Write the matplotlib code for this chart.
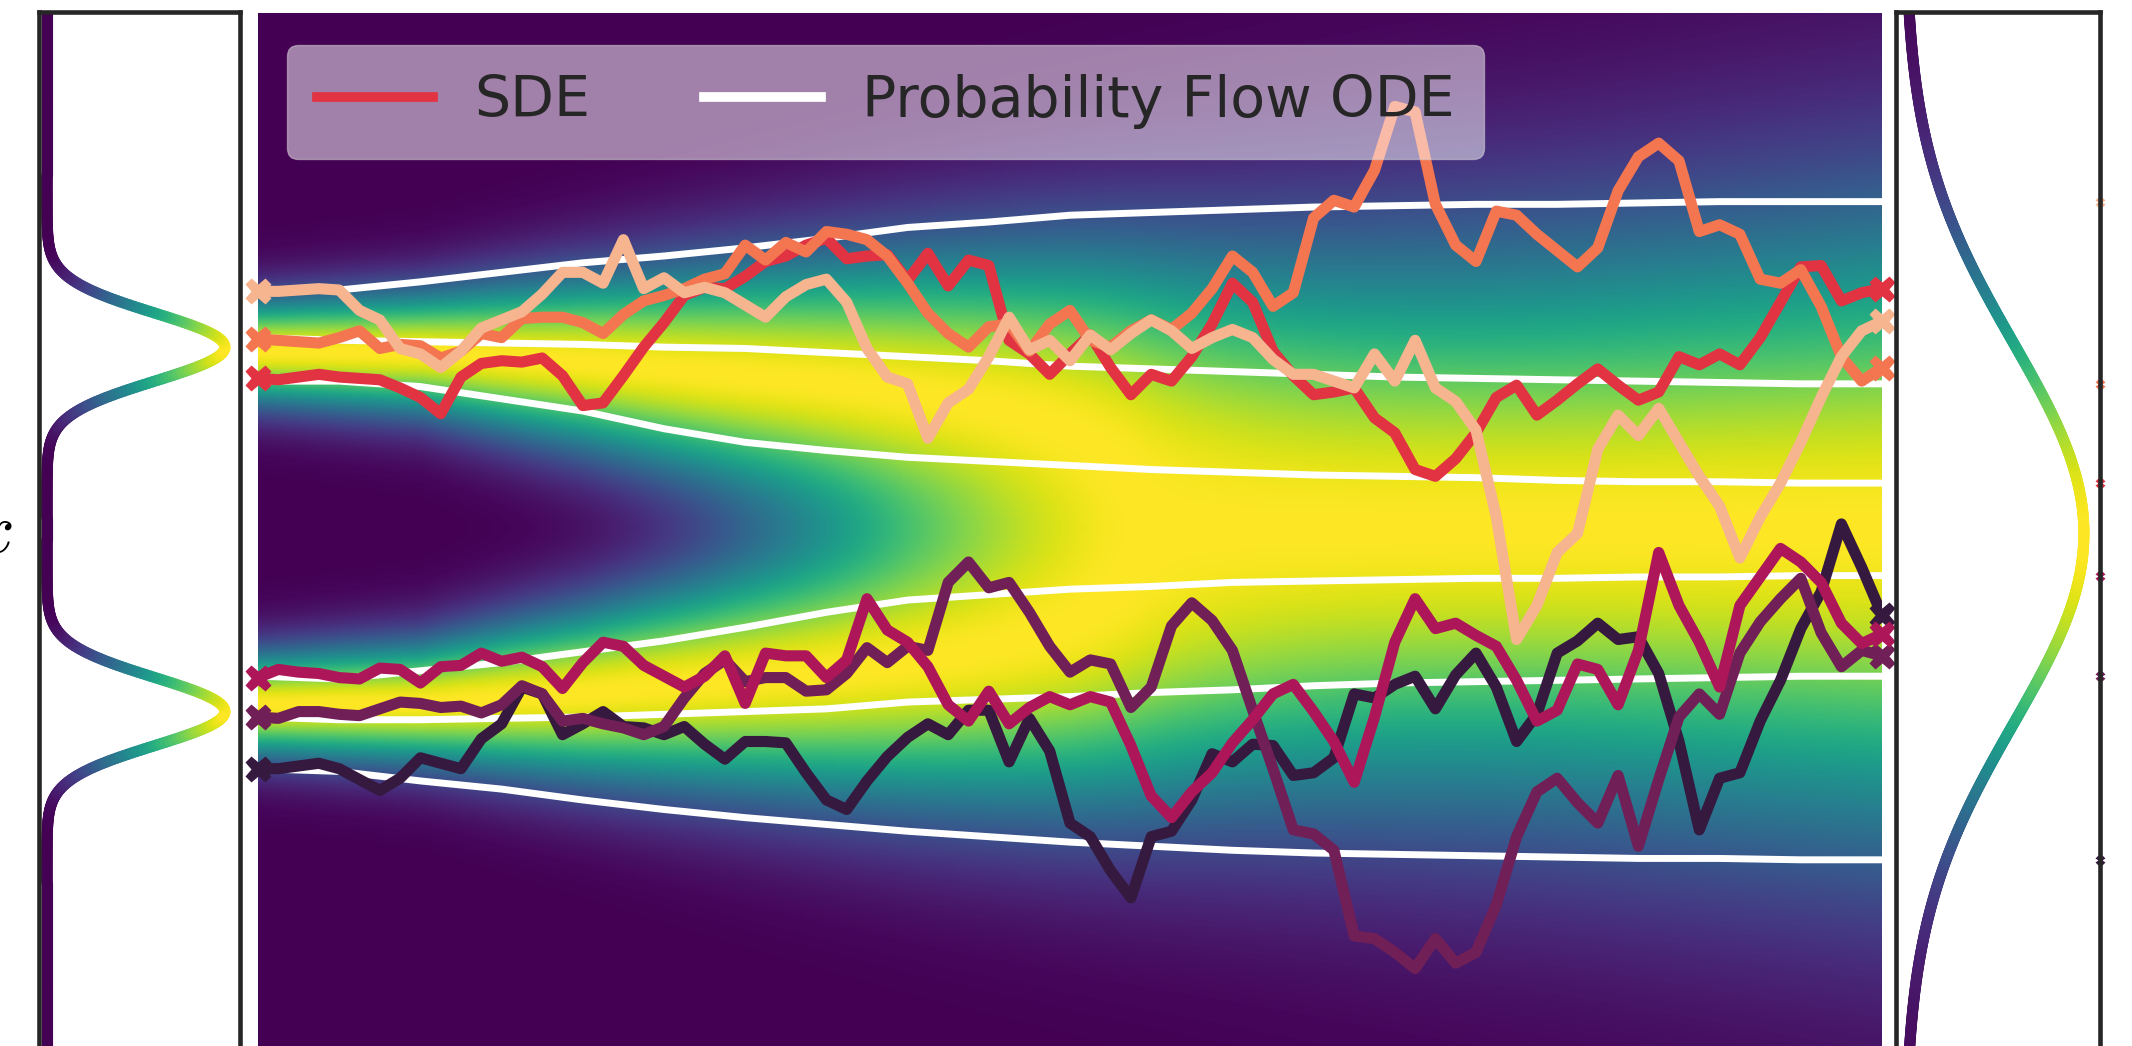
import numpy as np
import matplotlib
matplotlib.use("Agg")
import matplotlib.pyplot as plt
from matplotlib.collections import LineCollection
from matplotlib.lines import Line2D
import seaborn as sns

plt.rcParams['font.family'] = ['DejaVu Sans']
plt.rcParams['mathtext.fontset'] = 'cm'

# ---------------- data ----------------
legend_labels = ["SDE", "Probability Flow ODE"]
y_label = "$x$"

# SDE sample paths, 81 equally spaced time steps, ordered dark -> light
sde_dark = [-1.77,-1.77,-1.75,-1.73,-1.77,-1.85,-1.93,-1.84,-1.69,-1.73,
            -1.77,-1.55,-1.44,-1.17,-1.22,-1.52,-1.44,-1.35,-1.46,-1.47,
            -1.52,-1.46,-1.59,-1.70,-1.57,-1.57,-1.58,-1.80,-2.00,-2.07,
            -1.86,-1.68,-1.54,-1.44,-1.52,-1.34,-1.34,-1.72,-1.40,-1.64,
            -2.17,-2.27,-2.52,-2.72,-2.27,-2.23,-2.00,-1.66,-1.72,-1.59,
            -1.60,-1.82,-1.80,-1.69,-1.22,-1.25,-1.15,-1.09,-1.33,-1.08,
            -0.92,-1.17,-1.57,-1.37,-0.92,-0.83,-0.70,-0.82,-0.80,-1.07,
            -1.57,-2.22,-1.84,-1.80,-1.42,-1.12,-0.74,-0.47,0.03,-0.29,
            -0.64]
sde_plum = [-1.39,-1.40,-1.35,-1.35,-1.37,-1.38,-1.33,-1.28,-1.29,-1.32,
            -1.31,-1.36,-1.30,-1.16,-1.22,-1.42,-1.40,-1.44,-1.47,-1.52,
            -1.46,-1.25,-1.07,-0.97,-1.13,-1.10,-1.10,-1.20,-1.19,-1.07,
            -0.88,-0.99,-0.87,-0.90,-0.40,-0.25,-0.44,-0.40,-0.62,-0.87,
            -1.06,-0.97,-1.00,-1.32,-1.17,-0.72,-0.55,-0.68,-0.90,-1.34,
            -1.77,-2.22,-2.25,-2.37,-3.00,-3.02,-3.12,-3.24,-3.02,-3.20,
            -3.12,-2.77,-2.27,-1.94,-1.84,-2.02,-2.17,-1.82,-2.34,-1.85,
            -1.39,-1.22,-1.37,-0.92,-0.69,-0.52,-0.37,-0.77,-1.02,-0.90,
            -0.94]
sde_magenta = [-1.10,-1.04,-1.06,-1.07,-1.10,-1.11,-1.03,-1.04,-1.14,-1.02,
               -1.01,-0.92,-0.98,-0.95,-1.02,-1.18,-0.99,-0.84,-0.87,-1.01,
               -1.09,-1.17,-1.09,-0.94,-1.29,-0.92,-0.94,-0.94,-1.10,-0.97,
               -0.52,-0.75,-0.84,-1.02,-1.30,-1.42,-1.20,-1.44,-1.32,-1.24,
               -1.30,-1.24,-1.28,-1.60,-1.97,-2.13,-1.94,-1.80,-1.58,-1.41,
               -1.22,-1.15,-1.35,-1.57,-1.87,-1.39,-0.84,-0.52,-0.74,-0.70,
               -0.79,-0.87,-1.12,-1.42,-1.34,-1.00,-1.04,-1.30,-0.90,-0.18,
               -0.57,-0.84,-1.17,-0.57,-0.36,-0.15,-0.25,-0.40,-0.70,-0.85,
               -0.78]
sde_red = [1.10,1.09,1.11,1.13,1.11,1.10,1.09,1.03,0.96,0.84,
           1.11,1.21,1.23,1.22,1.25,1.12,0.90,0.92,1.12,1.33,
           1.51,1.71,1.77,1.76,1.85,1.96,2.00,2.08,2.13,1.98,
           2.00,2.01,1.82,2.02,1.78,1.97,1.93,1.38,1.28,1.13,
           1.28,1.42,1.18,0.98,1.13,1.08,1.26,1.50,1.80,1.66,
           1.30,1.12,0.98,1.00,1.03,0.81,0.70,0.43,0.38,0.51,
           0.70,0.96,1.05,0.83,0.94,1.06,1.17,1.05,0.94,1.00,
           1.26,1.20,1.28,1.20,1.40,1.66,1.92,1.93,1.67,1.73,
           1.76]
sde_orange = [1.39,1.38,1.37,1.36,1.40,1.45,1.32,1.35,1.34,1.25,
              1.30,1.43,1.40,1.54,1.55,1.55,1.51,1.43,1.57,1.67,
              1.71,1.76,1.83,1.87,2.08,1.97,2.10,2.03,2.18,2.16,
              2.12,2.00,1.80,1.58,1.43,1.33,1.48,1.50,1.30,1.50,
              1.60,1.38,1.33,1.45,1.53,1.46,1.58,1.76,2.00,1.88,
              1.63,1.73,2.28,2.41,2.36,2.63,3.10,3.06,2.38,2.08,
              1.96,2.33,2.30,2.16,2.04,1.92,2.06,2.48,2.73,2.83,
              2.70,2.18,2.23,2.16,1.83,1.80,1.90,1.63,1.26,1.08,
              1.18]
sde_peach = [1.74,1.74,1.75,1.76,1.75,1.60,1.53,1.32,1.28,1.18,
             1.30,1.47,1.53,1.59,1.72,1.88,1.88,1.80,2.12,1.76,
             1.84,1.73,1.77,1.73,1.64,1.55,1.70,1.79,1.83,1.66,
             1.32,1.11,1.06,0.66,0.92,1.02,1.26,1.55,1.31,1.38,
             1.23,1.42,1.31,1.43,1.53,1.45,1.32,1.40,1.46,1.40,
             1.24,1.13,1.13,1.08,1.03,1.28,1.08,1.38,1.03,0.93,
             0.72,0.08,-0.82,-0.57,-0.18,-0.04,0.58,0.83,0.68,0.88,
             0.63,0.38,0.16,-0.22,0.08,0.33,0.63,0.96,1.26,1.45,
             1.52]

# Probability-flow ODE paths, 21 equally spaced time steps
ode_1 = [1.75,1.75,1.81,1.88,1.95,2.00,2.06,2.13,2.21,2.25,2.30,2.32,2.34,2.36,2.37,2.38,2.38,2.39,2.40,2.40,2.40]
ode_2 = [1.40,1.38,1.37,1.36,1.35,1.33,1.32,1.29,1.26,1.23,1.19,1.17,1.15,1.13,1.11,1.10,1.09,1.08,1.07,1.06,1.06]
ode_3 = [1.08,1.08,1.04,0.95,0.86,0.73,0.63,0.57,0.52,0.49,0.46,0.43,0.41,0.39,0.38,0.37,0.35,0.34,0.34,0.33,0.33]
ode_4 = [-1.09,-1.11,-1.05,-0.99,-0.91,-0.83,-0.73,-0.62,-0.53,-0.49,-0.45,-0.43,-0.40,-0.39,-0.38,-0.37,-0.37,-0.36,-0.36,-0.35,-0.35]
ode_5 = [-1.39,-1.41,-1.41,-1.40,-1.39,-1.37,-1.35,-1.33,-1.28,-1.26,-1.24,-1.21,-1.19,-1.16,-1.14,-1.13,-1.12,-1.11,-1.10,-1.09,-1.09]
ode_6 = [-1.77,-1.79,-1.86,-1.92,-2.00,-2.07,-2.13,-2.18,-2.23,-2.27,-2.31,-2.34,-2.37,-2.39,-2.40,-2.41,-2.42,-2.43,-2.43,-2.44,-2.44]

# marginal density of the diffusion: two modes +-mean with common std
heat_t = [0.0, 0.1, 0.2, 0.3, 0.4, 0.5, 0.6, 0.7, 0.8, 0.9, 1.0]
heat_mean = [1.30, 1.29, 1.22, 1.12, 1.03, 0.95, 0.85, 0.75, 0.65, 0.57, 0.50]
heat_std = [0.27, 0.32, 0.45, 0.59, 0.72, 0.84, 0.98, 1.12, 1.25, 1.38, 1.50]

# data distribution (left) and prior (right)
data_modes = [1.33, -1.35]
data_std = 0.25
prior_mean = -0.04
prior_std = 1.40

# ---------------- figure ----------------
W, H = 2132, 1046
fig = plt.figure(figsize=(W / 100, H / 100), dpi=100)
fig.patch.set_facecolor('white')


def rect(x0, x1, ytop, ybot):
    return [x0 / W, 1 - ybot / H, (x1 - x0) / W, (ybot - ytop) / H]


Y_BOT = -3.993
Y_TOP_C = 3.787
Y_TOP_S = 3.794

ax_c = fig.add_axes(rect(258, 1882, 13, 1071))
ax_l = fig.add_axes(rect(39, 240, 12, 1071))
ax_r = fig.add_axes(rect(1896, 2100, 12, 1071))

cmap = plt.get_cmap('viridis')

# heatmap
ts = np.linspace(0, 1, 600)
ys = np.linspace(Y_BOT, Y_TOP_C, 900)
M = np.interp(ts, heat_t, heat_mean)
S = np.interp(ts, heat_t, heat_std)
Yg = ys[:, None]
dens = (np.exp(-0.5 * ((Yg - M) / S) ** 2) + np.exp(-0.5 * ((Yg + M) / S) ** 2)) / S
dens = dens / dens.max(axis=0, keepdims=True)
ax_c.imshow(dens, extent=[0, 1, Y_BOT, Y_TOP_C], origin='lower', aspect='auto',
            cmap=cmap, vmin=0, vmax=1, interpolation='bilinear', zorder=0)
ax_c.set_xlim(0, 1)
ax_c.set_ylim(Y_BOT, Y_TOP_C)
for sp in ax_c.spines.values():
    sp.set_visible(False)
ax_c.set_xticks([])
ax_c.set_yticks([])

colors = sns.color_palette("rocket", 6)
sde_paths = [sde_dark, sde_plum, sde_magenta, sde_red, sde_orange, sde_peach]
ode_paths = [ode_6, ode_5, ode_4, ode_3, ode_2, ode_1]

t_ode = np.linspace(0, 1, len(ode_1))
for p in ode_paths:
    ax_c.plot(t_ode, p, color='white', lw=5, zorder=2, solid_capstyle='butt')

t_sde = np.linspace(0, 1, len(sde_dark))
for p, c in zip(sde_paths, colors):
    ax_c.plot(t_sde, p, color=c, lw=8, zorder=3, solid_joinstyle='round',
              solid_capstyle='round')
    ax_c.plot([t_sde[0], t_sde[-1]], [p[0], p[-1]], linestyle='none', marker='X',
              ms=19, color=c, mec='none', zorder=3, clip_on=False)

handles = [Line2D([], [], color=colors[3], lw=7),
           Line2D([], [], color='white', lw=7)]
leg = ax_c.legend(handles, legend_labels, loc='upper left',
                  bbox_to_anchor=(0.0179, 0.970), borderaxespad=0, ncol=2,
                  fontsize=41, handlelength=2.05, handletextpad=0.72,
                  columnspacing=2.0, borderpad=0.52, framealpha=0.5,
                  facecolor='white', edgecolor='0.85', fancybox=True)
leg.set_zorder(10)
for txt in leg.get_texts():
    txt.set_color('#262626')


def colored_curve(ax, dvals, yvals):
    pts = np.array([dvals, yvals]).T.reshape(-1, 1, 2)
    segs = np.concatenate([pts[:-1], pts[1:]], axis=1)
    lc = LineCollection(segs, cmap=cmap, norm=plt.Normalize(0, dvals.max()),
                        linewidths=8, capstyle='round', joinstyle='round', zorder=2)
    lc.set_array(0.5 * (dvals[:-1] + dvals[1:]))
    ax.add_collection(lc)


yy = np.linspace(Y_BOT, Y_TOP_S, 800)
d_left = sum(np.exp(-0.5 * ((yy - m) / data_std) ** 2) for m in data_modes)
colored_curve(ax_l, d_left, yy)
pk = d_left.max()
ax_l.set_xlim(-0.045 * pk, 1.085 * pk)
ax_l.set_ylim(Y_BOT, Y_TOP_S)

d_right = np.exp(-0.5 * ((yy - prior_mean) / prior_std) ** 2)
colored_curve(ax_r, d_right, yy)
pk = d_right.max()
ax_r.set_xlim(-0.05 * pk, 1.09 * pk)
ax_r.set_ylim(Y_BOT, Y_TOP_S)
ends = [p[-1] for p in ode_paths]
for e, c in zip(ends, colors):
    ax_r.plot([1.09 * pk], [e], linestyle='none', marker='X', ms=7, mec='none',
              color=c, zorder=1, clip_on=False)

for ax in (ax_l, ax_r):
    ax.set_xticks([])
    ax.set_yticks([])
    ax.set_facecolor('white')
    for sp in ax.spines.values():
        sp.set_color('#262626')
        sp.set_linewidth(3.3)
        sp.set_zorder(5)

fig.text(12 / W, 1 - 552 / H, y_label, fontsize=50, ha='right', va='baseline')

fig.savefig('out.png', dpi=100, facecolor='white')
